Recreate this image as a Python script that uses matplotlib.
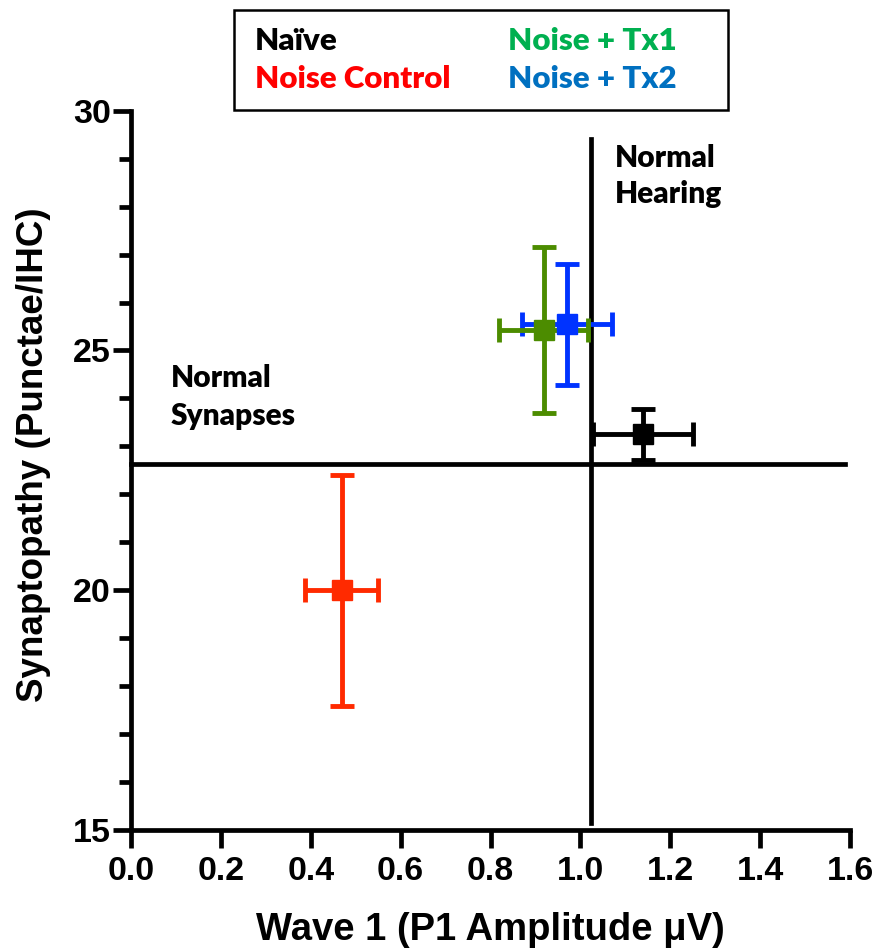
import matplotlib
matplotlib.use('Agg')
import matplotlib.pyplot as plt
from matplotlib.patches import Rectangle
from matplotlib.ticker import MultipleLocator

# group means and errors (wave 1 amplitude vs synapse counts)
groups = ['Naïve', 'Noise Control', 'Noise + Tx1', 'Noise + Tx2']
wave1 = [1.139, 0.469, 0.919, 0.970]
wave1_err = [0.111, 0.081, 0.099, 0.100]
synapses = [23.25, 20.0, 25.43, 25.55]
synapses_err = [0.53, 2.41, 1.73, 1.26]
marker_colors = ['#000000', '#FF2A00', '#4C8C00', '#0033FF']
text_colors = ['#000000', '#FF0000', '#00B050', '#0070C0']

# threshold lines
hearing_x = 1.023
hearing_y_range = [15.15, 29.40]
synapse_y = 22.63
synapse_x_range = [0.0, 1.589]

W, H = 892, 952
fig = plt.figure(figsize=(W / 100, H / 100), dpi=100)
ax = fig.add_axes([131 / W, 1 - 830 / H, (850 - 131) / W, (830 - 110.7) / H])

tick_font = dict(family='Liberation Sans', weight='bold', size=24.5)
note_font = ['Lato', 'DejaVu Sans']

# thresholds
ax.plot([hearing_x, hearing_x], hearing_y_range, color='black', lw=3.4, clip_on=False, zorder=2)
ax.plot(synapse_x_range, [synapse_y, synapse_y], color='black', lw=3.4, clip_on=False, zorder=2)

# groups: draw Naive, Noise Control, Tx2 then Tx1 on top
for i in [0, 1, 3, 2]:
    ax.errorbar(wave1[i], synapses[i], xerr=wave1_err[i], yerr=synapses_err[i],
                fmt='s', color=marker_colors[i], ms=14, elinewidth=3.5,
                capsize=8.5, capthick=3.5, zorder=3, clip_on=False)

ax.set_xlim(0, 1.6)
ax.set_ylim(15, 30)
ax.yaxis.set_minor_locator(MultipleLocator(1))
ax.set_xticks([0, 0.2, 0.4, 0.6, 0.8, 1.0, 1.2, 1.4, 1.6])
ax.set_xticklabels(['0.0', '0.2', '0.4', '0.6', '0.8', '1.0', '1.2', '1.4', '1.6'], **tick_font)
ax.set_yticks([15, 20, 25, 30])
ax.set_yticklabels(['15', '20', '25', '30'], **tick_font)

for s in ['top', 'right']:
    ax.spines[s].set_visible(False)
for s in ['left', 'bottom']:
    ax.spines[s].set_linewidth(3.4)
ax.tick_params(which='major', length=13, width=3.4)
ax.tick_params(which='minor', length=8.5, width=3.4)
ax.tick_params(axis='x', pad=6)
ax.tick_params(axis='y', pad=1.5)

# axis titles
fig.text(490 / W, 1 - 940 / H, 'Wave 1 (P1 Amplitude μV)', ha='center', va='baseline',
         family='Liberation Sans', weight='bold', size=27.5)
fig.text(34 / W, 1 - 455 / H, 'Synaptopathy (Punctae/IHC)', ha='center', va='center',
         rotation=90, family='Liberation Sans', weight='bold', size=26.5)

# region notes
fig.text(615 / W, 1 - 166.7 / H, 'Normal', family=note_font, weight='heavy', size=21.5, va='baseline')
fig.text(615 / W, 1 - 203 / H, 'Hearing', family=note_font, weight='heavy', size=21.5, va='baseline')
fig.text(171 / W, 1 - 386.7 / H, 'Normal', family=note_font, weight='heavy', size=21.5, va='baseline')
fig.text(171 / W, 1 - 425 / H, 'Synapses', family=note_font, weight='heavy', size=21.5, va='baseline')

# legend box
fig.patches.append(Rectangle((234 / W, 1 - 110 / H), (728 - 234) / W, 100 / H,
                             transform=fig.transFigure, fill=False, edgecolor='black', lw=1.8))
leg_pos = [(255, 50), (255, 88), (508, 50), (508, 88)]
for name, c, (px, py) in zip(groups, text_colors, leg_pos):
    fig.text(px / W, 1 - py / H, name, color=c, family=note_font, weight='heavy', size=22.5,
             va='baseline')

fig.savefig('out.png', dpi=100)
